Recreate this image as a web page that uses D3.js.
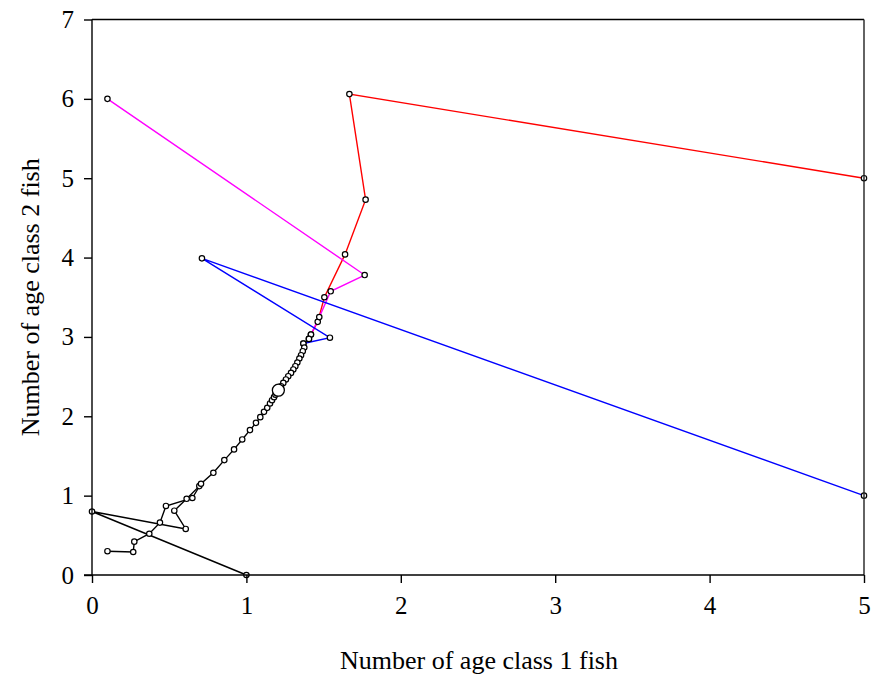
<!DOCTYPE html>
<html><head><meta charset="utf-8">
<script src="https://cdn.jsdelivr.net/npm/d3@7/dist/d3.min.js"></script>
<style>body{margin:0;background:#fff}</style>
</head><body><svg id="c" width="877" height="679"></svg>
<script>
const xTicks = [0,1,2,3,4,5];
const yTicks = [0,1,2,3,4,5,6,7];
const xLabel = "Number of age class 1 fish";
const yLabel = "Number of age class 2 fish";

// black trajectory A (starts at (1,0))
const blackA = [[1,0],[0,0.8],[0.607,0.58],[0.533,0.81],[0.613,0.96],[0.695,1.12]];
// black trajectory B (starts at (0.1,0.3)) converging from below
const blackB = [[0.1,0.3],[0.267,0.29],[0.274,0.42],[0.371,0.52],[0.44,0.66],[0.479,0.87],[0.65,0.97],
  [0.706,1.15],[0.786,1.288],[0.857,1.448],[0.92,1.583],[0.973,1.708],[1.023,1.826],[1.062,1.917],
  [1.09,1.989],[1.114,2.056],[1.135,2.106],[1.153,2.162],[1.166,2.203],[1.179,2.241],[1.188,2.272],
  [1.196,2.295],[1.207,2.329]];
// red trajectory
const red = [[5,5],[1.667,6.06],[1.772,4.73],[1.639,4.04],[1.505,3.50],[1.462,3.19],[1.418,3.03]];
// magenta trajectory
const magenta = [[0.1,6],[1.766,3.78],[1.546,3.575],[1.472,3.25],[1.405,2.975]];
// blue trajectory
const blue = [[5,1],[0.712,3.99],[1.541,2.99],[1.369,2.917]];
// convergence from above (overlapping tails)
const blackTop = [[1.418,3.03],[1.405,2.975],[1.369,2.917],[1.375,2.867],[1.365,2.82],[1.354,2.77],
  [1.343,2.728],[1.330,2.678],[1.317,2.631],[1.304,2.59],[1.289,2.547],[1.271,2.505],[1.256,2.464],
  [1.239,2.421],[1.224,2.379],[1.207,2.329]];
const equilibrium = [1.207,2.329];

const svg = d3.select("#c");
const L=92, R=864, T=19.5, B=575;
const x = d3.scaleLinear().domain([0,5]).range([L,R]);
const y = d3.scaleLinear().domain([0,7]).range([B,T]);
const font = "'Liberation Serif','Times New Roman',serif";

const series = [
  {d: red, c: "#ff0000"},
  {d: magenta, c: "#ff00ff"},
  {d: blue, c: "#0000ff"},
  {d: blackA, c: "#000"},
  {d: blackB, c: "#000"},
  {d: blackTop, c: "#000"}
];
const line = d3.line().x(d=>x(d[0])).y(d=>y(d[1]));
series.forEach(s=>{
  svg.append("path").attr("d", line(s.d)).attr("fill","none").attr("stroke", s.c).attr("stroke-width",1.4);
});
series.forEach(s=>{
  svg.append("g").selectAll("circle").data(s.d).join("circle")
    .attr("cx",d=>x(d[0])).attr("cy",d=>y(d[1])).attr("r",2.7)
    .attr("fill","#fff").attr("stroke","#000").attr("stroke-width",1.2);
});
svg.append("circle").attr("cx",x(equilibrium[0])).attr("cy",y(equilibrium[1])).attr("r",6)
  .attr("fill","#fff").attr("stroke","#000").attr("stroke-width",1.3);

// frame
svg.append("line").attr("x1",L).attr("x2",R).attr("y1",T).attr("y2",T).attr("stroke","#000").attr("stroke-width",1.4);
svg.append("line").attr("x1",R).attr("x2",R).attr("y1",T).attr("y2",B).attr("stroke","#222").attr("stroke-width",1.4);

const xAxis = svg.append("g").attr("transform",`translate(0,${B})`)
  .call(d3.axisBottom(x).tickValues(xTicks).tickFormat(d3.format("d")).tickSize(8).tickPadding(13));
const yAxis = svg.append("g").attr("transform",`translate(${L},0)`)
  .call(d3.axisLeft(y).tickValues(yTicks).tickFormat(d3.format("d")).tickSize(8).tickPadding(10));
[xAxis,yAxis].forEach(a=>{
  a.select(".domain").attr("stroke","#000").attr("stroke-width",1.4);
  a.selectAll(".tick line").attr("stroke","#000").attr("stroke-width",1.4);
  a.selectAll("text").attr("font-family",font).attr("font-size",25).attr("fill","#000");
});
xAxis.select(".domain").attr("d",`M${L-8},0H${R}`);
yAxis.select(".domain").attr("d",`M0,${B}V${T}`);

svg.append("text").attr("x",(L+R)/2 + 1).attr("y",669).attr("text-anchor","middle")
  .attr("font-family",font).attr("font-size",26).text(xLabel);
svg.append("text").attr("transform",`translate(39,${(T+B)/2}) rotate(-90)`).attr("text-anchor","middle")
  .attr("font-family",font).attr("font-size",26).text(yLabel);
</script></body></html>
